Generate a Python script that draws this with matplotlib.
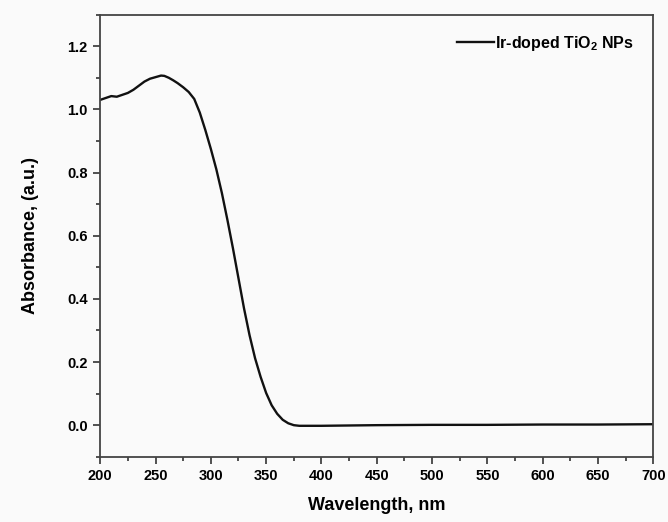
import numpy as np
import matplotlib
matplotlib.use("Agg")
import matplotlib.pyplot as plt
from matplotlib.ticker import MultipleLocator

# UV-vis absorbance of Ir-doped TiO2 NPs
wavelength = [200, 205, 210, 215, 220, 225, 230, 235, 240, 245, 250, 255,
              258, 262, 266, 270, 275, 280, 285, 290, 295, 300, 305, 310,
              315, 320, 325, 330, 335, 340, 345, 350, 355, 360, 365, 370,
              375, 380, 400, 450, 500, 550, 600, 650, 700]
absorbance = [1.030, 1.036, 1.042, 1.040, 1.046, 1.052, 1.062, 1.075, 1.088,
              1.097, 1.102, 1.107, 1.106, 1.100, 1.092, 1.083, 1.070, 1.055,
              1.033, 0.990, 0.935, 0.875, 0.810, 0.735, 0.650, 0.560, 0.465,
              0.370, 0.285, 0.212, 0.153, 0.102, 0.063, 0.036, 0.017, 0.006,
              0.000, -0.002, -0.002, 0.000, 0.001, 0.001, 0.002, 0.002, 0.003]
series_label = "Ir-doped TiO$_2$ NPs"
x_ticks = [200, 250, 300, 350, 400, 450, 500, 550, 600, 650, 700]
y_ticks = [0.0, 0.2, 0.4, 0.6, 0.8, 1.0, 1.2]

plt.rcParams['font.family'] = ['Liberation Sans', 'DejaVu Sans']
plt.rcParams['font.weight'] = 'bold'
plt.rcParams['mathtext.fontset'] = 'custom'
plt.rcParams['mathtext.rm'] = 'Liberation Sans:bold'
plt.rcParams['mathtext.default'] = 'rm'

fig = plt.figure(figsize=(6.68, 5.22), dpi=100, facecolor='#fafafa')
ax = fig.add_axes([0.150, 0.125, 0.828, 0.847])
ax.set_facecolor('#fafafa')

ax.plot(wavelength, absorbance, color='#111111', lw=1.7, label=series_label)

ax.set_xlim(200, 700)
ax.set_ylim(-0.1, 1.3)
ax.set_xticks(x_ticks)
ax.set_yticks(y_ticks)
ax.set_yticklabels([f"{v:.1f}" for v in y_ticks])
ax.xaxis.set_minor_locator(MultipleLocator(25))
ax.yaxis.set_minor_locator(MultipleLocator(0.1))
ax.tick_params(which='major', direction='out', length=5, width=1.2,
               color='#333333', labelsize=10.5, pad=4)
ax.tick_params(which='minor', direction='out', length=3, width=1.2, color='#333333')
for s in ax.spines.values():
    s.set_color('#444444')
    s.set_linewidth(1.3)

ax.set_xlabel("Wavelength, nm", fontsize=13, fontweight='bold', labelpad=10)
ax.set_ylabel("Absorbance, (a.u.)", fontsize=13, fontweight='bold', labelpad=20)

ax.legend(loc='upper right', frameon=False, fontsize=11.5, handlelength=2.3,
          handletextpad=0.1, borderaxespad=0.8)

fig.savefig("out.png", dpi=100, facecolor=fig.get_facecolor())
